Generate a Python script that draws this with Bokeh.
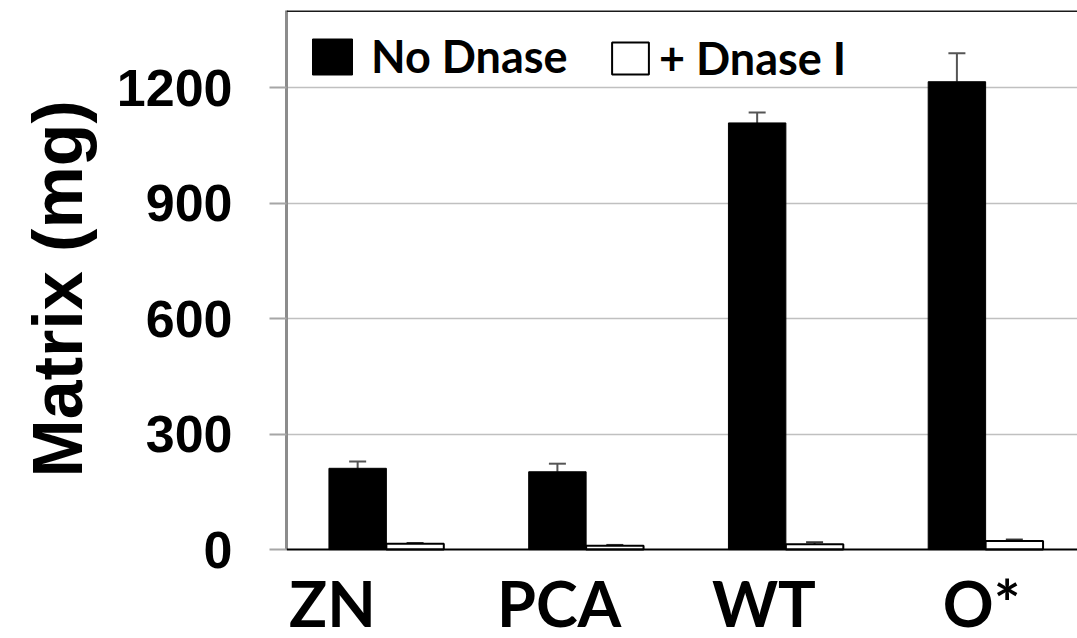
from bokeh.plotting import figure
from bokeh.models import (ColumnDataSource, Range1d, FixedTicker, Whisker, TeeHead,
                          Legend, LegendItem, Span, Title)
from bokeh.core.properties import value
from bokeh.embed import file_html
from bokeh.resources import INLINE

# ---- data ----
categories = ["ZN", "PCA", "WT", "O*"]
no_dnase = [211, 202, 1108, 1215]
no_dnase_err = [18, 21, 27, 74]
dnase = [15, 10, 14, 22]
dnase_err = [2, 2, 5, 4]
y_ticks = [0, 300, 600, 900, 1200]

# ---- styles ----
bar_w = 0.2875
label_nudge = [-0.27, -0.135, -0.11, -0.02]
label_y = -138
y_floor = -231

idx = list(range(len(categories)))
x_black = [i + 0.5 - bar_w / 2 for i in idx]
x_white = [i + 0.5 + bar_w / 2 for i in idx]

src_b = ColumnDataSource(dict(x=x_black, top=no_dnase,
                              upper=[v + e for v, e in zip(no_dnase, no_dnase_err)]))
src_w = ColumnDataSource(dict(x=x_white, top=dnase,
                              upper=[v + e for v, e in zip(dnase, dnase_err)]))
src_lab = ColumnDataSource(dict(x=[i + 0.5 + n for i, n in zip(idx, label_nudge)],
                                y=[label_y] * len(categories), text=categories))

p = figure(width=1077, height=638, output_backend="svg", toolbar_location=None,
           x_range=Range1d(0, 3.96), y_range=Range1d(y_floor, 1400),
           x_axis_location=None,
           min_border_left=285, min_border_right=0, min_border_top=10,
           min_border_bottom=0)
p.outline_line_color = None
p.background_fill_color = "white"

# grid
p.xgrid.grid_line_color = None
p.ygrid.grid_line_color = "#c0c0c0"
p.ygrid.grid_line_width = 1.5
p.ygrid.ticker = FixedTicker(ticks=y_ticks[1:])

rb = p.vbar(x="x", top="top", width=bar_w, source=src_b, fill_color="black",
            line_color="black", line_width=1)
rw = p.vbar(x="x", top="top", width=bar_w, source=src_w, fill_color="white",
            line_color="black", line_width=2)

for src, col in ((src_b, "#555555"), (src_w, "#333333")):
    wh = Whisker(source=src, base="x", lower="top", upper="upper",
                 line_color=col, line_width=2,
                 upper_head=TeeHead(size=17, line_color=col, line_width=2),
                 lower_head=None)
    p.add_layout(wh)

# top border and x axis line
p.add_layout(Span(location=1400, dimension="width", line_color="#1a1a1a", line_width=3))
p.add_layout(Span(location=0, dimension="width", line_color="black", line_width=2))

# y axis
ya = p.yaxis[0]
ya.bounds = (0, 1400)
ya.ticker = FixedTicker(ticks=y_ticks)
ya.axis_line_color = "#8c8c8c"
ya.axis_line_width = 3
ya.major_tick_line_color = "#a6a6a6"
ya.major_tick_line_width = 2
ya.major_tick_out = 17
ya.major_tick_in = 0
ya.minor_tick_line_color = None
ya.major_label_standoff = 37
ya.major_label_text_font = "Liberation Sans"
ya.major_label_text_font_style = "bold"
ya.major_label_text_font_size = "52px"
ya.major_label_text_color = "black"

ytitle = Title(text="Matrix (mg)", align="left", offset=161, standoff=33,
               text_font="Liberation Sans", text_font_style="bold",
               text_font_size="70px", text_color="black")
p.add_layout(ytitle, "left")

# category labels
p.text(x="x", y="y", text="text", source=src_lab, text_align="center",
       text_baseline="alphabetic", text_font=value("Lato"),
       text_font_style="bold", text_font_size="63px", text_color="black")

leg_font = dict(label_text_font="Lato", label_text_font_style="bold",
                label_text_font_size="45px", label_text_color="black",
                border_line_color=None, background_fill_alpha=0,
                margin=0, padding=0, orientation="horizontal")
legend1 = Legend(items=[LegendItem(label="No Dnase", renderers=[rb])],
                 location=(21, 555), label_standoff=14,
                 glyph_width=50, glyph_height=45, **leg_font)
legend2 = Legend(items=[LegendItem(label="+ Dnase I", renderers=[rw])],
                 location=(321, 553), label_standoff=6,
                 glyph_width=46, glyph_height=40, **leg_font)
p.add_layout(legend1)
p.add_layout(legend2)

open("out.html", "w").write(file_html(p, INLINE))
